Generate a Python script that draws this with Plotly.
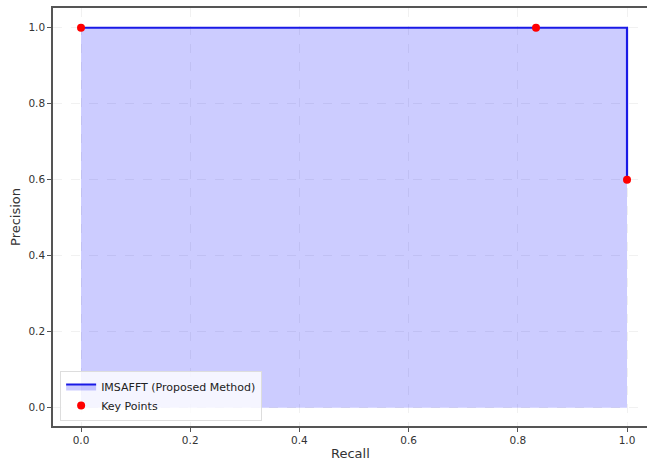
import plotly.graph_objects as go

recall = [0.0, 0.8333, 1.0]
precision = [1.0, 1.0, 0.6]
tick_vals = [0.0, 0.2, 0.4, 0.6, 0.8, 1.0]
tick_text = ["0.0", "0.2", "0.4", "0.6", "0.8", "1.0"]

fig = go.Figure()
fig.add_trace(go.Scatter(
    x=recall, y=precision, mode="lines", line_shape="hv",
    line=dict(color="#1a1ae6", width=2.2),
    fill="tozeroy", fillcolor="rgba(0,0,255,0.2)",
    name="IMSAFFT (Proposed Method)"))
fig.add_trace(go.Scatter(
    x=recall, y=precision, mode="markers",
    marker=dict(color="#ff0000", size=8),
    name="Key Points", cliponaxis=False))

axis_common = dict(
    tickvals=tick_vals, ticktext=tick_text, automargin=False,
    showgrid=True, gridcolor="rgba(190,190,190,0.22)", griddash="dash", gridwidth=1,
    zeroline=False, showline=True, linecolor="#555", linewidth=1.5,
    ticks="outside", ticklen=4, tickcolor="#555",
    tickfont=dict(family="DejaVu Sans", size=10.5, color="#333"),
)

fig.update_layout(
    width=649, height=466,
    margin=dict(l=53, r=2, t=8, b=40, autoexpand=False),
    plot_bgcolor="white", paper_bgcolor="white",
    xaxis=dict(range=[-0.0513, 1.0366], mirror=True, **axis_common),
    yaxis=dict(range=[-0.048, 1.052], **axis_common),
    legend=dict(x=0.012, y=0.012, xanchor="left", yanchor="bottom",
                bgcolor="rgba(255,255,255,0.8)", bordercolor="#ddd", borderwidth=1,
                font=dict(family="DejaVu Sans", size=11, color="#222"),
                tracegroupgap=0, itemwidth=30),
    showlegend=True,
    annotations=[
        dict(text="Recall", xref="paper", yref="paper", x=0.5, y=-0.065,
             xanchor="center", yanchor="middle", showarrow=False,
             font=dict(family="DejaVu Sans", size=13, color="#333")),
        dict(text="Precision", xref="paper", yref="paper", x=-0.064, y=0.5,
             xanchor="center", yanchor="middle", showarrow=False, textangle=-90,
             font=dict(family="DejaVu Sans", size=13, color="#333")),
    ],
)

fig.write_html("out.html", config={"displayModeBar": False},
               post_script="document.body.style.margin='0';document.body.style.overflow='hidden';")
